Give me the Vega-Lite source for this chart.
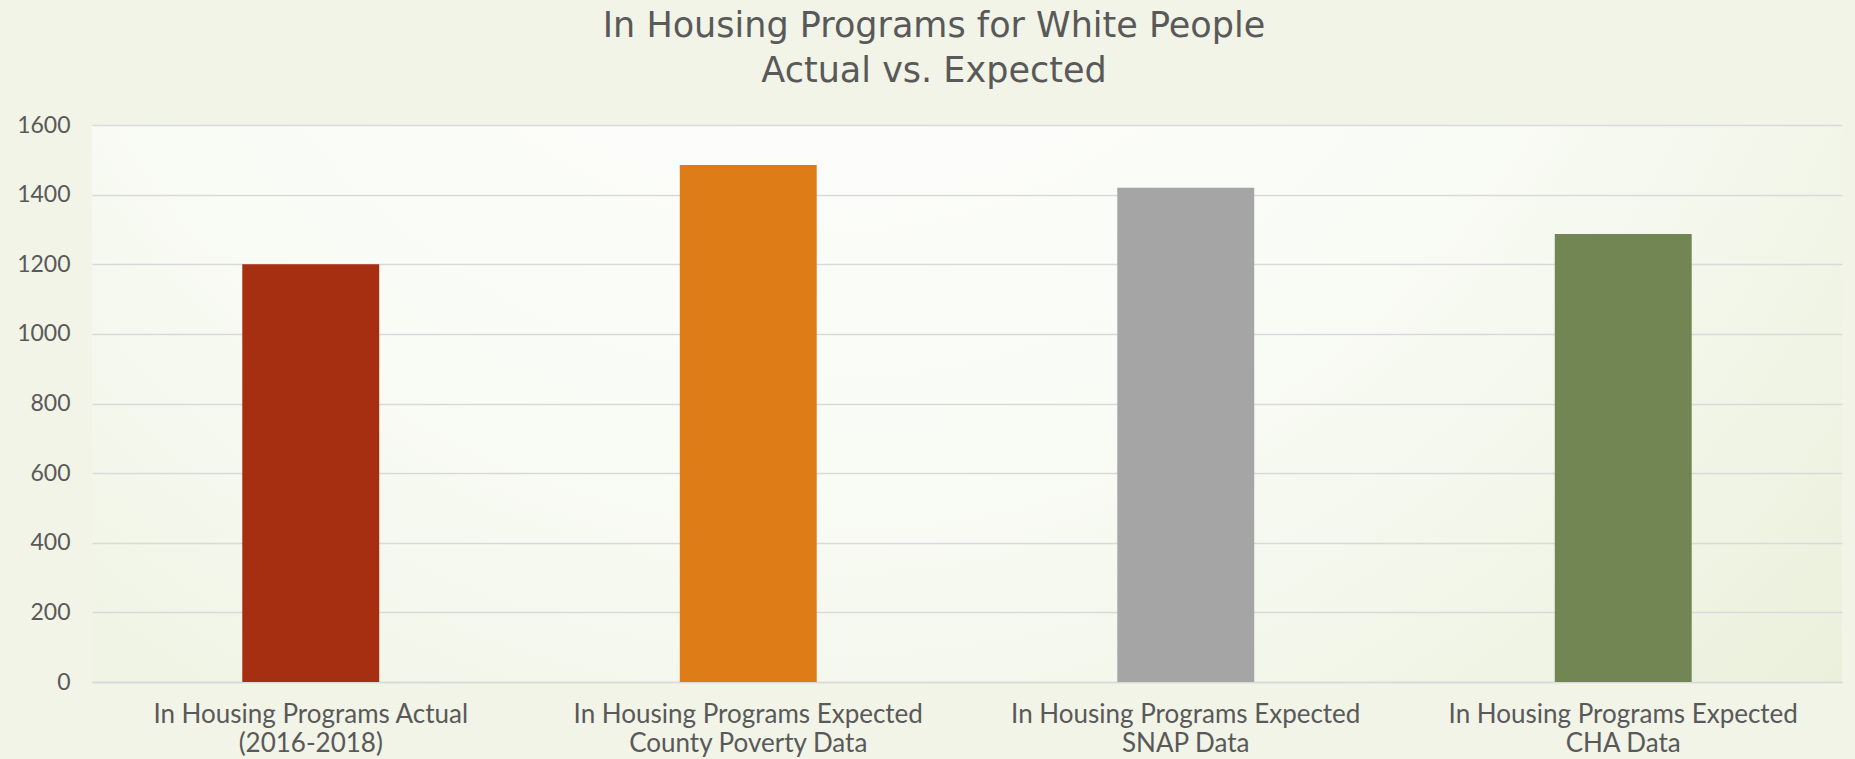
{
  "$schema": "https://vega.github.io/schema/vega-lite/v6.json",
  "width": 1750,
  "height": 557,
  "autosize": {"type": "none"},
  "padding": {"left": 92, "top": 125, "right": 13, "bottom": 77},
  "background": "#f1f4e7",
  "title": {
    "text": ["In Housing Programs for White People", "Actual vs. Expected"],
    "font": "DejaVu Sans",
    "fontSize": 35,
    "fontWeight": "normal",
    "color": "#595959",
    "lineHeight": 45,
    "anchor": "middle",
    "dx": -33,
    "offset": 25
  },
  "config": {
    "view": {
      "stroke": null,
      "fill": {
        "gradient": "radial",
        "x1": 0.42, "y1": 0.1, "r1": 0,
        "x2": 0.42, "y2": 0.1, "r2": 1.0,
        "stops": [
          {"offset": 0, "color": "#ffffff"},
          {"offset": 0.45, "color": "#f9fbf5"},
          {"offset": 1, "color": "#e3eacd"}
        ]
      }
    }
  },
  "data": {
    "values": [
      {"program": "In Housing Programs Actual|(2016-2018)", "count": 1200},
      {"program": "In Housing Programs Expected|County Poverty Data", "count": 1485},
      {"program": "In Housing Programs Expected|SNAP Data", "count": 1420},
      {"program": "In Housing Programs Expected|CHA Data", "count": 1287}
    ]
  },
  "mark": {"type": "bar"},
  "encoding": {
    "x": {
      "field": "program",
      "type": "nominal",
      "sort": null,
      "scale": {"paddingInner": 0.687, "paddingOuter": 0.3435},
      "axis": {
        "title": null,
        "labelAngle": 0,
        "labelExpr": "split(datum.label, '|')",
        "labelFont": "Lato",
        "labelFontSize": 26,
        "labelColor": "#595959",
        "labelLineHeight": 29,
        "labelPadding": 19,
        "labelBaseline": "top",
        "ticks": false,
        "domain": true,
        "domainColor": "#d9d9d9",
        "domainWidth": 1.5,
        "labelLimit": 500
      }
    },
    "y": {
      "field": "count",
      "type": "quantitative",
      "scale": {"domain": [0, 1600]},
      "axis": {
        "title": null,
        "format": "d",
        "values": [0, 200, 400, 600, 800, 1000, 1200, 1400, 1600],
        "labelFont": "Lato",
        "labelFontSize": 23,
        "labelColor": "#595959",
        "labelPadding": 22,
        "ticks": false,
        "domain": false,
        "grid": true,
        "gridColor": "#d9d9d9",
        "gridWidth": 1.5
      }
    },
    "color": {
      "field": "program",
      "type": "nominal",
      "sort": null,
      "scale": {"range": ["#a52f10", "#de7c18", "#a5a5a5", "#728653"]},
      "legend": null
    }
  }
}
